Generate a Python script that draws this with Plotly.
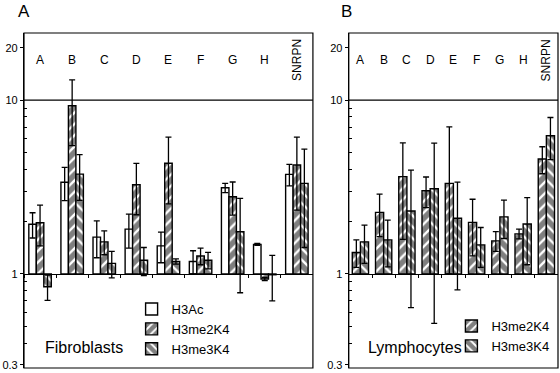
import math
import plotly.graph_objects as go

# ---------------- data ----------------
categories = ["A", "B", "C", "D", "E", "F", "G", "H", "SNRPN"]

# Panel A (Fibroblasts)
fib_h3ac = [1.93, 3.37, 1.63, 1.81, 1.45, 1.18, 3.13, 1.48, 3.74]
fib_h3ac_err = [0.32, 0.73, 0.39, 0.40, 0.29, 0.18, 0.19, 0.02, 0.53]
fib_me2 = [1.97, 9.27, 1.53, 3.26, 4.33, 1.27, 2.78, 0.936, 4.23]
fib_me2_err = [0.52, 3.8, 0.24, 1.07, 1.8, 0.14, 0.6, 0.02, 1.9]
fib_me3 = [0.845, 3.75, 1.15, 1.20, 1.18, 1.20, 1.75, 0.99, 3.32]
fib_me3_err = [0.14, 1.1, 0.20, 0.22, 0.04, 0.13, 0.97, 0.29, 1.9]

# Panel B (Lymphocytes)
lym_me2 = [1.33, 2.26, 3.63, 3.01, 3.32, 1.98, 1.55, 1.70, 4.58]
lym_me2_err = [0.24, 0.62, 2.05, 0.60, 3.7, 0.71, 0.20, 0.11, 0.81]
lym_me3 = [1.53, 1.57, 2.30, 3.09, 2.09, 1.47, 2.13, 1.94, 6.24]
lym_me3_err = [0.38, 0.47, 1.66, 2.57, 1.28, 0.38, 0.53, 0.81, 1.7]

y_tickvals = [0.3, 1, 10, 20]
y_ticktext = ["0.3", "1", "10", "20"]
y_minor = [0.4, 0.5, 0.6, 0.7, 0.8, 0.9, 2, 3, 4, 5, 6, 7, 8, 9]

FONT = "Liberation Sans, Arial, sans-serif"
BASE = 1.0
Y_RANGE = [math.log10(0.288), math.log10(24.3)]
ONE_POS = -Y_RANGE[0] / (Y_RANGE[1] - Y_RANGE[0])


def minus(vals, errs):
    # lower error bar, stopped at the baseline if it would cross zero
    return [e if e < v * 0.9 else v - BASE for v, e in zip(vals, errs)]


def bar(name, vals, errs, shape, xa, ya, legend, size=8, sol=0.7):
    pattern = dict(shape=shape, fgcolor="black", bgcolor="white",
                   size=size, solidity=sol) if shape else dict(shape="")
    return go.Bar(
        name=name, x=categories, y=[v - BASE for v in vals], base=BASE,
        xaxis=xa, yaxis=ya, legend=legend,
        marker=dict(color="white", line=dict(color="black", width=1.4),
                    pattern=pattern),
        error_y=dict(type="data", array=errs, arrayminus=minus(vals, errs),
                     symmetric=False, color="black", thickness=1.3, width=3),
        hoverinfo="skip",
    )


fig = go.Figure()
fig.add_trace(bar("H3Ac", fib_h3ac, fib_h3ac_err, "", "x", "y", "legend"))
fig.add_trace(bar("H3me2K4", fib_me2, fib_me2_err, "/", "x", "y", "legend"))
fig.add_trace(bar("H3me3K4", fib_me3, fib_me3_err, "\\", "x", "y", "legend"))
fig.add_trace(bar("H3me2K4", lym_me2, lym_me2_err, "/", "x2", "y2", "legend2"))
fig.add_trace(bar("H3me3K4", lym_me3, lym_me3_err, "\\", "x2", "y2", "legend2"))

domA = [0, 290 / 536]
domB = [326 / 536, 1]


def xaxis(dom):
    return dict(domain=dom, type="category", categoryorder="array",
                categoryarray=categories, range=[-0.5, len(categories) - 0.5],
                anchor="free", position=ONE_POS, showline=True,
                linecolor="black", linewidth=1.2, ticks="outside",
                tickson="boundaries", ticklen=3, tickcolor="black",
                showticklabels=False, showgrid=False, zeroline=False,
                fixedrange=True)


def yaxis(anchor):
    return dict(type="log", range=Y_RANGE, anchor=anchor,
                tickvals=y_tickvals, ticktext=y_ticktext, ticks="outside",
                ticklen=3, tickcolor="black", showline=True, linecolor="black",
                linewidth=1.2, showgrid=False, zeroline=False,
                tickfont=dict(size=11, color="black", family=FONT),
                minor=dict(tickvals=y_minor, ticks="inside", ticklen=3,
                           tickcolor="black", showgrid=False),
                fixedrange=True)


shapes = []
annotations = []
for xa, ya in (("x", "y"), ("x2", "y2")):
    shapes.append(dict(type="rect", xref=f"{xa} domain", yref=f"{ya} domain",
                       x0=0, x1=1, y0=0, y1=1,
                       line=dict(color="black", width=1.2), layer="above"))
    shapes.append(dict(type="line", xref=f"{xa} domain", yref=ya,
                       x0=0, x1=1, y0=10, y1=10,
                       line=dict(color="black", width=1.2)))
    for c in categories:
        annotations.append(dict(
            x=c, y=1.23, xref=xa, yref=ya, text=c, showarrow=False,
            textangle=-90 if len(c) > 1 else 0,
            font=dict(size=12, color="black", family=FONT)))

annotations += [
    dict(x=0, y=1.063, xref="paper", yref="paper", text="A", showarrow=False,
         xanchor="center", yanchor="middle",
         font=dict(size=17, color="black", family=FONT)),
    dict(x=324 / 536, y=1.063, xref="paper", yref="paper", text="B",
         showarrow=False, xanchor="center", yanchor="middle",
         font=dict(size=17, color="black", family=FONT)),
    dict(x=(41 - 22) / 536, y=(368 - 347) / 335, xref="paper", yref="paper",
         text="Fibroblasts", showarrow=False, xanchor="left", yanchor="middle",
         font=dict(size=16, color="black", family=FONT)),
    dict(x=(365 - 22) / 536, y=(368 - 347) / 335, xref="paper", yref="paper",
         text="Lymphocytes", showarrow=False, xanchor="left", yanchor="middle",
         font=dict(size=16, color="black", family=FONT)),
]

legend_style = dict(bgcolor="rgba(0,0,0,0)", borderwidth=0,
                    font=dict(size=13, color="black", family=FONT),
                    itemwidth=30, xanchor="left", yanchor="top",
                    tracegroupgap=0)

fig.update_layout(
    width=560, height=373,
    margin=dict(l=22, r=2, t=33, b=5),
    paper_bgcolor="white", plot_bgcolor="white",
    barmode="group", bargap=0.3, bargroupgap=0,
    xaxis=xaxis(domA), yaxis=yaxis("x"),
    xaxis2=xaxis(domB), yaxis2=yaxis("x2"),
    shapes=shapes, annotations=annotations,
    showlegend=True,
    legend=dict(x=(130 - 22) / 536, y=(368 - 294) / 335, **legend_style),
    legend2=dict(x=(451 - 22) / 536, y=(368 - 311) / 335, **legend_style),
    font=dict(family=FONT, color="black"),
)

fig.write_html(
    "out.html",
    config={"displayModeBar": False},
    post_script="document.body.style.margin='0';document.body.style.padding='0';",
)
